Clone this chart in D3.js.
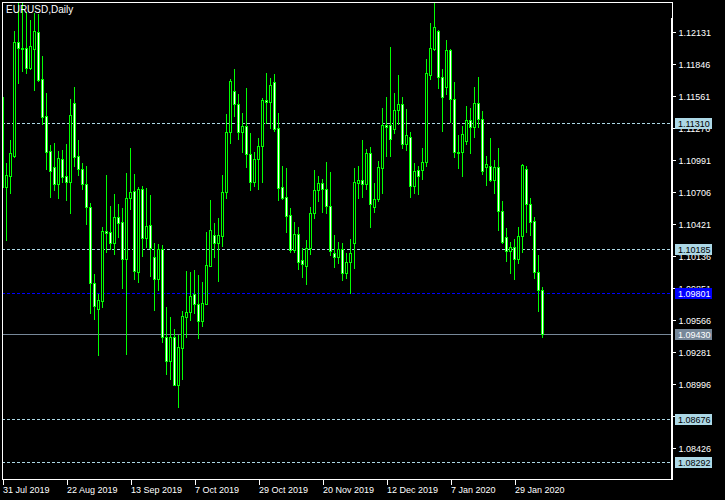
<!DOCTYPE html>
<html>
<head>
<meta charset="utf-8">
<script src="https://cdn.jsdelivr.net/npm/d3@7"></script>
<style>
  html, body { margin: 0; padding: 0; background: #000; }
  svg { display: block; }
  text { font-family: "Liberation Sans", Arial, sans-serif; }
</style>
</head>
<body>
<svg id="chart" width="725" height="500"></svg>
<script>
// ---- Data: EURUSD Daily, 31 Jul 2019 .. 7 Feb 2020 ----
const openPrices = [
  1.11543,1.10744,1.10842,1.11020,1.12030,1.11977,1.11977,1.11799,1.11968,1.12119,
  1.11701,1.11374,1.11060,1.10917,1.10766,1.10988,1.10840,1.10789,1.11487,1.11018,
  1.10899,1.10766,1.10561,1.09889,1.09652,1.09729,1.10350,1.10338,1.10246,1.10472,
  1.10427,1.10098,1.10641,1.10709,1.09987,1.10721,1.10290,1.10400,1.10116,1.09920,
  1.10187,1.09408,1.09195,1.09403,1.08978,1.09305,1.09581,1.09626,1.09786,1.09700,
  1.09551,1.09697,1.10041,1.10314,1.10246,1.10308,1.10700,1.11229,1.11599,1.11478,
  1.11234,1.11288,1.11033,1.10784,1.10988,1.11109,1.11517,1.11501,1.11680,1.11264,
  1.10739,1.10650,1.10492,1.10181,1.10320,1.10092,1.10041,1.10201,1.10507,1.10715,
  1.10775,1.10721,1.10575,1.10151,1.10121,1.10187,1.09978,1.10071,1.10240,1.10775,
  1.10804,1.10766,1.11042,1.10566,1.10632,1.10908,1.11294,1.11294,1.11256,1.11427,
  1.11478,1.11122,1.11190,1.10751,1.10893,1.10893,1.10967,1.11739,1.11971,1.12131,
  1.11719,1.11635,1.11962,1.11523,1.11056,1.11051,1.11154,1.11338,1.11279,1.11487,
  1.11345,1.10917,1.10929,1.10804,1.10917,1.10531,1.10294,1.10174,1.10210,1.10098,
  1.10308,1.10899,1.10588,1.10439,1.09982,1.09824
];
const highPrices = [
  1.11579,1.10953,1.11160,1.12131,1.12500,1.12385,1.12303,1.12229,1.12289,1.12282,
  1.11908,1.11576,1.11116,1.11131,1.11062,1.11071,1.11125,1.11525,1.11630,1.11160,
  1.10953,1.10929,1.10596,1.09967,1.09789,1.10383,1.10849,1.10572,1.10679,1.10590,
  1.10552,1.10869,1.11086,1.10855,1.10739,1.10751,1.10730,1.10670,1.10246,1.10234,
  1.10225,1.09676,1.09587,1.09477,1.09424,1.09637,1.09994,1.09982,1.10002,1.09958,
  1.09898,1.10344,1.10626,1.10424,1.10463,1.10849,1.11392,1.11704,1.11793,1.11570,
  1.11398,1.11621,1.11220,1.11056,1.11175,1.11532,1.11754,1.11710,1.11748,1.11398,
  1.10929,1.10908,1.10552,1.10427,1.10383,1.10196,1.10270,1.10561,1.10893,1.10840,
  1.10810,1.10962,1.10873,1.10314,1.10249,1.10240,1.10151,1.10279,1.10908,1.10929,
  1.11160,1.11077,1.11101,1.10775,1.10973,1.11448,1.11541,1.11991,1.11576,1.11739,
  1.11541,1.11436,1.11234,1.10953,1.10931,1.11086,1.11879,1.12200,1.12383,1.12140,
  1.11793,1.12051,1.11971,1.11680,1.11205,1.11285,1.11463,1.11448,1.11630,1.11719,
  1.11419,1.11018,1.11181,1.10982,1.11086,1.10617,1.10374,1.10249,1.10279,1.10388,
  1.10944,1.10929,1.10641,1.10472,1.10136,1.09854
];
const lowPrices = [
  1.10626,1.10270,1.10691,1.11009,1.11665,1.11777,1.11760,1.11790,1.11606,1.11688,
  1.11303,1.10902,1.10655,1.10715,1.10646,1.10789,1.10626,1.10507,1.10931,1.10849,
  1.10724,1.10412,1.09622,1.09566,1.09245,1.09676,1.10160,1.10192,1.10145,1.10299,
  1.09845,1.09254,1.10546,1.09922,1.09898,1.10127,1.10210,1.09952,1.09646,1.09824,
  1.09364,1.09076,1.09029,1.08978,1.08785,1.09029,1.09403,1.09557,1.09617,1.09399,
  1.09506,1.09697,1.10041,1.10121,1.09907,1.10219,1.10646,1.11136,1.11377,1.11169,
  1.11056,1.10922,1.10715,1.10753,1.10724,1.10789,1.11309,1.11270,1.11240,1.10626,
  1.10635,1.10344,1.10160,1.10165,1.10011,1.09943,1.09878,1.10142,1.10468,1.10617,
  1.10516,1.10513,1.10136,1.10032,1.10062,1.09913,1.09929,1.09800,1.10023,1.10646,
  1.10655,1.10724,1.10388,1.10522,1.10617,1.10691,1.11020,1.11020,1.11220,1.11303,
  1.11092,1.11071,1.10655,1.10686,1.10679,1.10813,1.10931,1.11704,1.11962,1.11626,
  1.11243,1.11567,1.11323,1.11012,1.10914,1.10842,1.11122,1.11042,1.11184,1.11273,
  1.10855,1.10760,1.10798,1.10691,1.10359,1.10240,1.10083,1.09973,1.09920,1.10062,
  1.10160,1.10344,1.10314,1.09929,1.09640,1.09408
];
const closePrices = [
  1.10742,1.10849,1.11044,1.12030,1.11977,1.11972,1.11799,1.11995,1.12131,1.11695,
  1.11368,1.11056,1.10887,1.10768,1.10997,1.10833,1.10789,1.11380,1.11011,1.10899,
  1.10766,1.10561,1.09889,1.09684,1.09733,1.10350,1.10329,1.10240,1.10472,1.10424,
  1.10098,1.10641,1.10694,1.09996,1.10721,1.10290,1.10397,1.10196,1.09920,1.10187,
  1.09408,1.09195,1.09408,1.08978,1.09314,1.09593,1.09626,1.09774,1.09697,1.09551,
  1.09706,1.10047,1.10359,1.10246,1.10312,1.10700,1.11229,1.11686,1.11478,1.11234,
  1.11288,1.11033,1.10789,1.10988,1.11109,1.11517,1.11501,1.11650,1.11258,1.10735,
  1.10646,1.10486,1.10181,1.10320,1.10076,1.10053,1.10201,1.10507,1.10715,1.10775,
  1.10721,1.10575,1.10174,1.10121,1.10187,1.09978,1.10076,1.10151,1.10784,1.10804,
  1.10768,1.11042,1.10588,1.10632,1.10917,1.11291,1.11279,1.11167,1.11427,1.11481,
  1.11122,1.11205,1.10751,1.10887,1.10842,1.10967,1.11754,1.11977,1.12164,1.11719,
  1.11546,1.11962,1.11523,1.11051,1.11047,1.11211,1.11338,1.11273,1.11487,1.11347,
  1.10887,1.10947,1.10804,1.10917,1.10531,1.10249,1.10174,1.10210,1.10098,1.10308,
  1.10938,1.10588,1.10427,1.09982,1.09824,1.09430
];
const dateTickIndex  = [0, 16, 32, 48, 64, 80, 96, 112, 128];
const dateTickLabels = ["31 Jul 2019","22 Aug 2019","13 Sep 2019","7 Oct 2019","29 Oct 2019",
                        "20 Nov 2019","12 Dec 2019","7 Jan 2020","29 Jan 2020"];
const priceTicks = [1.12131,1.11846,1.11561,1.11276,1.10991,1.10706,1.10421,
                    1.10136,1.09851,1.09566,1.09281,1.08996,1.08711,1.08426];
const levelLines = [1.11310, 1.10185, 1.08676, 1.08292];   // light-blue dashed levels
const markLine   = [1.09801];                                // blue dashed level
const bidLine    = [1.09430];                                // last price line
const chartTitle = "EURUSD,Daily";

// ---- Layout ----
const svg = d3.select("#chart");
const L = 2, R = 672, T = 2, B = 479;
const LIME = "#00ff00", LIGHTBLUE = "#add8e6", BLUE = "#0000ff", GRAY = "#778899";

svg.append("rect").attr("width", 725).attr("height", 500).attr("fill", "#000");

const y = d3.scaleLinear().domain([1.12131, 1.08426]).range([31, 447]);
const x = d3.scaleLinear().domain([0, 167]).range([2.5, 670.5]);
const row = v => Math.round(y(v));

svg.append("clipPath").attr("id", "plotClip")
  .append("rect").attr("x", L).attr("y", T + 1).attr("width", R - L).attr("height", B - T - 1);

const plot = svg.append("g").attr("clip-path", "url(#plotClip)").attr("shape-rendering", "crispEdges");

// level lines
function hline(p, color, dash) {
  plot.append("line")
    .attr("x1", L).attr("x2", R)
    .attr("y1", row(p) + 0.5).attr("y2", row(p) + 0.5)
    .attr("stroke", color).attr("stroke-width", 1)
    .attr("stroke-dasharray", dash || null);
}
levelLines.forEach(p => hline(p, LIGHTBLUE, "3,2"));
markLine.forEach(p => hline(p, BLUE, "3,2"));
bidLine.forEach(p => hline(p, GRAY, null));

// candles
const bars = d3.range(openPrices.length).map(i => ({
  i, o: openPrices[i], h: highPrices[i], l: lowPrices[i], c: closePrices[i]
}));
const cg = plot.selectAll("g.candle").data(bars).join("g").attr("class", "candle");
cg.append("line")
  .attr("x1", d => x(d.i)).attr("x2", d => x(d.i))
  .attr("y1", d => row(d.h)).attr("y2", d => row(d.l) + 1)
  .attr("stroke", LIME).attr("stroke-width", 1);
cg.each(function(d) {
  const g = d3.select(this);
  const top = row(Math.max(d.o, d.c)), bot = row(Math.min(d.o, d.c));
  const fill = d.c < d.o ? "#ffffff" : "#000000";
  if (bot - top >= 1) {
    g.append("rect")
      .attr("x", x(d.i) - 1).attr("y", top + 0.5)
      .attr("width", 2).attr("height", bot - top)
      .attr("fill", fill).attr("stroke", LIME).attr("stroke-width", 1);
  } else {
    g.append("line")
      .attr("x1", x(d.i) - 1.5).attr("x2", x(d.i) + 1.5)
      .attr("y1", top + 0.5).attr("y2", top + 0.5)
      .attr("stroke", LIME).attr("stroke-width", 1);
  }
});

// frame
const frame = svg.append("g").attr("shape-rendering", "crispEdges");
frame.append("rect").attr("x", L + 0.5).attr("y", T + 0.5)
  .attr("width", R - L).attr("height", B - T)
  .attr("fill", "none").attr("stroke", "#fff");
frame.append("line").attr("x1", R - 0.5).attr("x2", R - 0.5)
  .attr("y1", 18).attr("y2", B + 1).attr("stroke", "#fff");

// title
svg.append("text").attr("x", 6).attr("y", 13)
  .attr("fill", "#fff").attr("font-size", "10px").text(chartTitle);

// price axis
const yAxis = d3.axisRight(y).tickValues(priceTicks)
  .tickFormat(d3.format(".5f")).tickSize(3).tickPadding(3);
const ya = svg.append("g").attr("transform", `translate(${R + 0.5},0.5)`).call(yAxis);
ya.select(".domain").remove();
ya.selectAll(".tick line").attr("stroke", "#fff").attr("shape-rendering", "crispEdges");
ya.selectAll(".tick text").attr("fill", "#fff").attr("font-size", "9px")
  .attr("font-family", "Liberation Sans, Arial, sans-serif").attr("dy", "0.42em");

// date axis
const xAxis = d3.axisBottom(x).tickValues(dateTickIndex)
  .tickFormat((d, i) => dateTickLabels[i]).tickSize(5).tickPadding(2);
const xa = svg.append("g").attr("transform", `translate(0,${B + 0.5})`).call(xAxis);
xa.select(".domain").remove();
xa.selectAll(".tick line").attr("stroke", "#fff").attr("shape-rendering", "crispEdges");
xa.selectAll(".tick text").attr("fill", "#fff").attr("font-size", "9px")
  .attr("font-family", "Liberation Sans, Arial, sans-serif").attr("text-anchor", "start");

// price labels (boxes)
function priceBox(p, bg, fg) {
  const r = row(p);
  const g = svg.append("g");
  g.append("rect").attr("x", R + 3).attr("y", r - 5).attr("width", 37).attr("height", 11)
    .attr("fill", bg).attr("shape-rendering", "crispEdges");
  g.append("text").attr("x", R + 6).attr("y", r + 4)
    .attr("fill", fg).attr("font-size", "9px").text(d3.format(".5f")(p));
}
levelLines.forEach(p => priceBox(p, LIGHTBLUE, "#000"));
markLine.forEach(p => priceBox(p, BLUE, "#fff"));
bidLine.forEach(p => priceBox(p, GRAY, "#fff"));
</script>
</body>
</html>
